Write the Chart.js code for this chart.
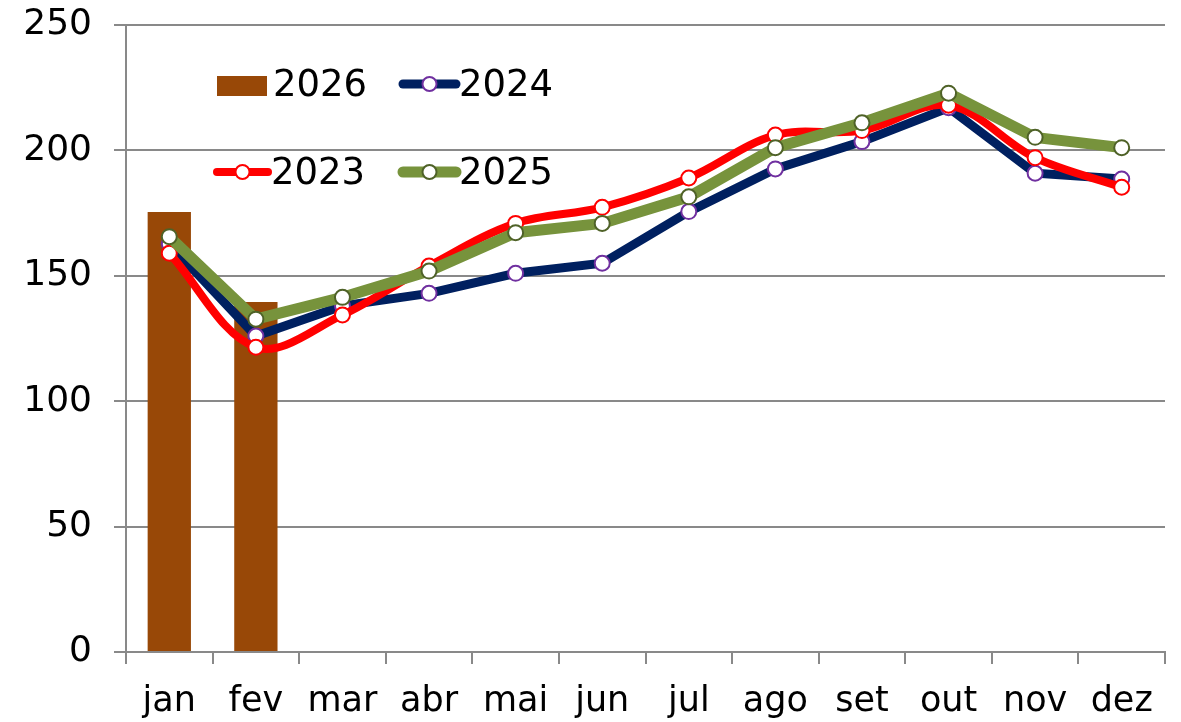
<!DOCTYPE html>
<html>
<head>
<meta charset="utf-8">
<script src="https://cdn.jsdelivr.net/npm/chart.js@4/dist/chart.umd.min.js"></script>
<style>
html,body{margin:0;padding:0;background:#fff;}
#wrap{width:1181px;height:722px;position:relative;}
</style>
</head>
<body>
<div id="wrap"><canvas id="c" width="1181" height="722"></canvas></div>
<script>
const categories = ["jan","fev","mar","abr","mai","jun","jul","ago","set","out","nov","dez"];
const values2026 = [175.4, 139.6, null, null, null, null, null, null, null, null, null, null];
const values2024 = [162.7, 126.0, 138.0, 143.0, 151.0, 155.0, 175.6, 192.6, 203.5, 217.0, 190.9, 188.6];
const values2023 = [159.0, 121.5, 134.4, 153.9, 170.9, 177.3, 189.0, 206.1, 207.9, 218.0, 197.1, 185.3];
const values2025 = [165.6, 132.7, 141.4, 151.9, 167.2, 170.9, 181.5, 201.1, 211.0, 222.8, 205.2, 201.1];
const yTicks = [0, 50, 100, 150, 200, 250];

const FONT = "'DejaVu Sans', sans-serif";
const GRID = '#898989';

const legendPlugin = {
  id: 'customLegend',
  afterDraw(chart) {
    const ctx = chart.ctx;
    ctx.save();
    ctx.font = "37px " + FONT;
    ctx.fillStyle = '#000';
    ctx.textBaseline = 'middle';
    ctx.textAlign = 'left';
    ctx.fillStyle = '#984807';
    ctx.fillRect(217, 76, 50, 20);
    ctx.fillStyle = '#000';
    ctx.fillText('2026', 273, 86);
    const lineItem = (x1, x2, y, color, w, border, label) => {
      ctx.strokeStyle = color; ctx.lineWidth = w; ctx.lineCap = 'round';
      ctx.beginPath(); ctx.moveTo(x1, y); ctx.lineTo(x2, y); ctx.stroke();
      ctx.beginPath(); ctx.arc((x1 + x2) / 2, y, 7, 0, Math.PI * 2);
      ctx.fillStyle = '#fff'; ctx.fill();
      ctx.lineWidth = 2; ctx.strokeStyle = border; ctx.stroke();
      ctx.fillStyle = '#000';
      ctx.fillText(label, x2 + 3, y + 2);
    };
    lineItem(403, 456, 84, '#002060', 9, '#7030A0', '2024');
    lineItem(217, 268, 172, '#FF0000', 8, '#FF0000', '2023');
    lineItem(403, 456, 172, '#77933C', 11, '#4F6228', '2025');
    ctx.restore();
  }
};

new Chart(document.getElementById('c'), {
  data: {
    labels: categories,
    datasets: [
      { type: 'bar', label: '2026', data: values2026, backgroundColor: '#984807',
        barPercentage: 0.5, categoryPercentage: 1.0, order: 4 },
      { type: 'line', label: '2024', data: values2024, borderColor: '#002060', borderWidth: 9,
        pointRadius: 7.5, pointBackgroundColor: '#fff', pointBorderColor: '#7030A0', pointBorderWidth: 2,
        tension: 0, order: 3 },
      { type: 'line', label: '2023', data: values2023, borderColor: '#FF0000', borderWidth: 8,
        pointRadius: 7.5, pointBackgroundColor: '#fff', pointBorderColor: '#FF0000', pointBorderWidth: 2,
        tension: 0.35, order: 2 },
      { type: 'line', label: '2025', data: values2025, borderColor: '#77933C', borderWidth: 11,
        pointRadius: 7.5, pointBackgroundColor: '#fff', pointBorderColor: '#4F6228', pointBorderWidth: 2,
        tension: 0, order: 1 }
    ]
  },
  options: {
    responsive: false,
    animation: false,
    layout: { padding: { left: 0, right: 16, top: 25, bottom: 0 } },
    plugins: { legend: { display: false }, tooltip: { enabled: false } },
    scales: {
      x: {
        offset: true,
        grid: { offset: true, drawOnChartArea: false, drawTicks: true, tickLength: 12, color: GRID, lineWidth: 2 },
        border: { color: GRID, width: 2 },
        ticks: { color: '#000', font: { family: FONT, size: 35 }, padding: 17, maxRotation: 0, autoSkip: false },
        afterFit(s) { s.height = 70; s.paddingLeft = 0; s.paddingRight = 0; }
      },
      y: {
        min: 0, max: 250,
        afterBuildTicks(s) { s.ticks = yTicks.map(v => ({ value: v })); },
        grid: { color: GRID, lineWidth: 2, tickLength: 12 },
        border: { color: GRID, width: 2 },
        ticks: { color: '#000', font: { family: FONT, size: 36 }, padding: 22 },
        afterFit(s) { s.width = 126; s.paddingTop = 0; s.paddingBottom = 0; }
      }
    }
  },
  plugins: [legendPlugin]
});
</script>
</body>
</html>
